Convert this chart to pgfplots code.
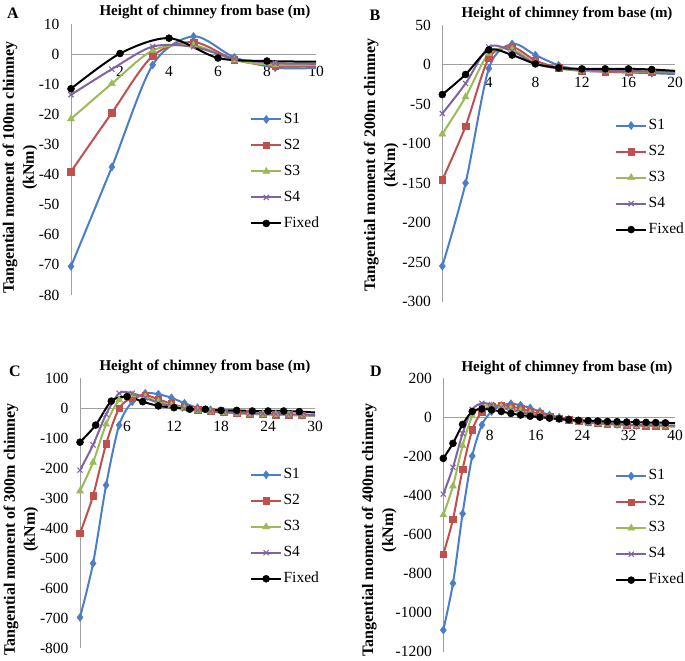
\documentclass[border=0pt]{standalone}
\usepackage{pgfplots}
\pgfplotsset{compat=1.18}
\usepackage{fontspec}
\setmainfont{Liberation Serif}
\definecolor{cS1}{RGB}{74,126,200}
\definecolor{cS2}{RGB}{192,80,77}
\definecolor{cS3}{RGB}{155,187,89}
\definecolor{cS4}{RGB}{128,100,162}
\definecolor{axgray}{RGB}{160,160,160}
\pgfplotsset{
  chim/.style={
    scale only axis,
    axis x line*=middle,
    axis y line*=left,
    axis line style={draw=axgray, line width=1bp},
    major tick length=0pt,
    xmin=0,
    tick label style={font=\fontsize{15.5bp}{18bp}\selectfont},
    /pgf/number format/assume math mode=true,
    /pgf/number format/1000 sep={},
    scaled y ticks=false, scaled x ticks=false,
    xticklabel style={yshift=-9bp},
    yticklabel style={xshift=-8bp},
    ylabel style={font=\bfseries\fontsize{16bp}{20bp}\selectfont, align=center, anchor=center},
    title style={font=\bfseries\fontsize{15bp}{18bp}\selectfont, anchor=center},
    legend style={draw=none, fill=none, anchor=north west, inner sep=0pt,
      font=\fontsize{15.5bp}{18bp}\selectfont, row sep=9.5bp,
      nodes={inner sep=1.5bp, text height=10.5bp, text depth=3bp}},
    legend cell align=left,
    legend image code/.code={\draw[mark indices={2}] plot coordinates {(0bp,0bp) (15bp,0bp) (30bp,0bp)};},
  },
  s1/.style={color=cS1, line width=2bp, smooth, tension=0.5, mark=diamond*, mark size=4bp, mark options={solid, fill=cS1, line width=0.5bp}},
  s2/.style={color=cS2, line width=2bp, smooth, tension=0.5, mark=square*, mark size=3.3bp, mark options={solid, fill=cS2, line width=0.5bp}},
  s3/.style={color=cS3, line width=2bp, smooth, tension=0.5, mark=triangle*, mark size=4bp, mark options={solid, fill=cS3, line width=0.5bp}},
  s4/.style={color=cS4, line width=2bp, smooth, tension=0.5, mark=x, mark size=3.6bp, mark options={solid, line width=1.1bp}},
  sf/.style={color=black, line width=2bp, smooth, tension=0.5, mark=*, mark size=3.5bp, mark options={solid, fill=black, line width=0.5bp}},
}
\begin{document}
\begin{tikzpicture}
\path[use as bounding box] (0bp,0bp) rectangle (685bp,661bp);
% ---------------- A ----------------
\begin{axis}[chim, at={(71bp,366bp)}, anchor=south west, width=245bp, height=271bp,
  xmax=10, ymin=-80, ymax=10, xtick={0,2,...,10}, ytick={-80,-70,...,10},
  ylabel={Tangential moment of 100m chimney\\(kNm)},
  ylabel style={at={(axis description cs:-0.208,0.47)}},
  title={Height of chimney from base (m)},
  title style={at={(axis description cs:0.547,1.022)}},
  legend style={at={(axis description cs:0.731,0.679)}}]
\addplot[s1, mark indices={1,2,3,4,5,6}] coordinates {(0,-70.5) (1.667,-37.5) (3.333,-3.6) (5,5.9) (6.667,-1.1) (8.333,-4.5) (10,-4.6)};
\addplot[s2, mark indices={1,2,3,4,5,6}] coordinates {(0,-39) (1.667,-19.5) (3.333,-0.6) (5,4.0) (6.667,-1.8) (8.333,-4.0) (10,-4.0)};
\addplot[s3, mark indices={1,2,3,4,5,6}] coordinates {(0,-21.5) (1.667,-9.8) (3.333,1.2) (5,3.0) (6.667,-2.0) (8.333,-3.6) (10,-3.6)};
\addplot[s4, mark indices={1,2,3,4,5,6}] coordinates {(0,-13.5) (1.667,-5.0) (3.333,2.5) (5,2.4) (6.667,-1.5) (8.333,-3.0) (10,-3.2)};
\addplot[sf, mark indices={1,2,3,4,5}] coordinates {(0,-11.5) (2,0.2) (4,5.3) (6,-1.3) (8,-2.3) (10,-2.5)};
\legend{S1,S2,S3,S4,Fixed}
\end{axis}
% ---------------- B ----------------
\begin{axis}[chim, at={(442.3bp,359.3bp)}, anchor=south west, width=232.7bp, height=276.7bp,
  xmax=20, ymin=-300, ymax=50, xtick={0,4,...,20}, ytick={-300,-250,...,50},
  ylabel={Tangential moment of 200m chimney\\(kNm)},
  ylabel style={at={(axis description cs:-0.263,0.494)}},
  title={Height of chimney from base (m)},
  title style={at={(axis description cs:0.536,1.018)}},
  legend style={at={(axis description cs:0.742,0.667)}}]
\addplot[s1, mark indices={1,2,3,4,5,6,7,8,9,10}] coordinates {(0,-255) (2,-150) (4,-5) (6,26) (8,12) (10,-1) (12,-7) (14,-9) (16,-10) (18,-11) (20,-12)};
\addplot[s2, mark indices={1,2,3,4,5,6,7,8,9,10}] coordinates {(0,-146) (2,-78) (4,8) (6,22) (8,5) (10,-4) (12,-8) (14,-9) (16,-10) (18,-10) (20,-11)};
\addplot[s3, mark indices={1,2,3,4,5,6,7,8,9,10}] coordinates {(0,-88) (2,-41) (4,14) (6,19) (8,2) (10,-5) (12,-8) (14,-8) (16,-9) (18,-9) (20,-10)};
\addplot[s4, mark indices={1,2,3,4,5,6,7,8,9,10}] coordinates {(0,-62) (2,-24) (4,22) (6,17) (8,1) (10,-5) (12,-7) (14,-8) (16,-8) (18,-9) (20,-9)};
\addplot[sf, mark indices={1,2,3,4,5,6,7,8,9,10}] coordinates {(0,-38) (2,-12.6) (4,18.5) (6,12) (8,0.8) (10,-4.2) (12,-5.5) (14,-5.5) (16,-5.5) (18,-6.3) (20,-8)};
\legend{S1,S2,S3,S4,Fixed}
\end{axis}
% ---------------- C ----------------
\begin{axis}[chim, at={(80bp,12.7bp)}, anchor=south west, width=235bp, height=270bp,
  xmax=30, ymin=-800, ymax=100, xtick={0,6,...,30}, ytick={-800,-700,...,100},
  ylabel={Tangential moment of 300m chimney\\(kNm)},
  ylabel style={at={(axis description cs:-0.251,0.44)}},
  title={Height of chimney from base (m)},
  title style={at={(axis description cs:0.532,1.0185)}},
  legend style={at={(axis description cs:0.723,0.674)}}]
\addplot[s1, mark indices={1,2,3,4,5,6,7,8,9,10,11,12,13,14,15,16,17,18}] coordinates {(0,-697) (1.667,-517) (3.333,-256) (5,-56) (6.667,22) (8.333,50) (10,47) (11.667,35) (13.333,17) (15,2) (16.667,-5) (18.333,-10) (20,-13) (21.667,-16) (23.333,-18) (25,-20) (26.667,-22) (28.333,-23) (30,-25)};
\addplot[s2, mark indices={1,2,3,4,5,6,7,8,9,10,11,12,13,14,15,16,17,18}] coordinates {(0,-417) (1.667,-291) (3.333,-119) (5,0) (6.667,35) (8.333,44) (10,30) (11.667,15) (13.333,3) (15,-5) (16.667,-10) (18.333,-13) (20,-16) (21.667,-18) (23.333,-20) (25,-21) (26.667,-22) (28.333,-23) (30,-24)};
\addplot[s3, mark indices={1,2,3,4,5,6,7,8,9,10,11,12,13,14,15,16,17,18}] coordinates {(0,-276) (1.667,-180) (3.333,-53) (5,28) (6.667,45) (8.333,38) (10,22) (11.667,10) (13.333,0) (15,-8) (16.667,-12) (18.333,-15) (20,-17) (21.667,-19) (23.333,-20) (25,-21) (26.667,-22) (28.333,-23) (30,-24)};
\addplot[s4, mark indices={1,2,3,4,5,6,7,8,9,10,11,12,13,14,15,16,17,18}] coordinates {(0,-206) (1.667,-122) (3.333,-20) (5,50) (6.667,50) (8.333,35) (10,18) (11.667,7) (13.333,-2) (15,-7) (16.667,-10) (18.333,-13) (20,-15) (21.667,-17) (23.333,-18) (25,-19) (26.667,-20) (28.333,-21) (30,-22)};
\addplot[sf, mark indices={1,2,3,4,5,6,7,8,9,10,11,12,13,14,15}] coordinates {(0,-113) (2,-56) (4,24) (6,39) (8,22) (10,8) (12,2) (14,-3) (16,-3) (18,-7) (20,-7) (22,-9) (24,-9) (26,-9) (28,-11) (30,-14)};
\legend{S1,S2,S3,S4,Fixed}
\end{axis}
% ---------------- D ----------------
\begin{axis}[chim, at={(443.3bp,9.3bp)}, anchor=south west, width=231.7bp, height=273.4bp,
  xmax=40, ymin=-1200, ymax=200, xtick={0,8,...,40}, ytick={-1200,-1000,...,200},
  ylabel={Tangential moment of 400m chimney\\(kNm)},
  ylabel style={at={(axis description cs:-0.277,0.445)}},
  title={Height of chimney from base (m)},
  title style={at={(axis description cs:0.534,1.018)}},
  legend style={at={(axis description cs:0.741,0.673)}}]
\addplot[s1, mark indices={1,2,3,4,5,6,7,8,9,10,11,12,13,14,15,16,17,18,19,20,21,22,23,24}] coordinates {(0,-1089) (1.667,-850) (3.333,-493) (5,-198) (6.667,-39) (8.333,30) (10,60) (11.667,70) (13.333,62) (15,48) (16.667,30) (18.333,12) (20,0) (21.667,-10) (23.333,-18) (25,-24) (26.667,-29) (28.333,-33) (30,-36) (31.667,-39) (33.333,-41) (35,-43) (36.667,-44) (38.333,-45) (40,-46)};
\addplot[s2, mark indices={1,2,3,4,5,6,7,8,9,10,11,12,13,14,15,16,17,18,19,20,21,22,23,24}] coordinates {(0,-700) (1.667,-522) (3.333,-266) (5,-65) (6.667,29) (8.333,55) (10,62) (11.667,55) (13.333,45) (15,30) (16.667,18) (18.333,5) (20,-5) (21.667,-13) (23.333,-20) (25,-25) (26.667,-29) (28.333,-33) (30,-36) (31.667,-38) (33.333,-40) (35,-42) (36.667,-43) (38.333,-44) (40,-45)};
\addplot[s3, mark indices={1,2,3,4,5,6,7,8,9,10,11,12,13,14,15,16,17,18,19,20,21,22,23,24}] coordinates {(0,-500) (1.667,-352) (3.333,-145) (5,7) (6.667,55) (8.333,60) (10,55) (11.667,45) (13.333,35) (15,22) (16.667,10) (18.333,0) (20,-10) (21.667,-17) (23.333,-23) (25,-28) (26.667,-32) (28.333,-35) (30,-38) (31.667,-40) (33.333,-42) (35,-43) (36.667,-44) (38.333,-45) (40,-46)};
\addplot[s4, mark indices={1,2,3,4,5,6,7,8,9,10,11,12,13,14,15,16,17,18,19,20,21,22,23,24}] coordinates {(0,-393) (1.667,-256) (3.333,-82) (5,40) (6.667,72) (8.333,65) (10,50) (11.667,38) (13.333,28) (15,15) (16.667,5) (18.333,-3) (20,-10) (21.667,-16) (23.333,-21) (25,-26) (26.667,-30) (28.333,-33) (30,-35) (31.667,-37) (33.333,-39) (35,-40) (36.667,-41) (38.333,-42) (40,-43)};
\addplot[sf, mark indices={1,2,3,4,5,6,7,8,9,10,11,12,13,14,15,16,17,18,19,20,21,22,23,24}] coordinates {(0,-210) (1.667,-133) (3.333,-36) (5,30) (6.667,43) (8.333,38) (10,30) (11.667,20) (13.333,12) (15,6) (16.667,1) (18.333,-4) (20,-8) (21.667,-12) (23.333,-15) (25,-17) (26.667,-19) (28.333,-21) (30,-22) (31.667,-24) (33.333,-25) (35,-26) (36.667,-27) (38.333,-28) (40,-30)};
\legend{S1,S2,S3,S4,Fixed}
\end{axis}
\node[font=\bfseries\fontsize{16bp}{19bp}\selectfont] at (13bp,648bp) {A};
\node[font=\bfseries\fontsize{16bp}{19bp}\selectfont] at (375bp,646bp) {B};
\node[font=\bfseries\fontsize{16bp}{19bp}\selectfont] at (15bp,289.3bp) {C};
\node[font=\bfseries\fontsize{16bp}{19bp}\selectfont] at (376bp,289.3bp) {D};
\end{tikzpicture}
\end{document}
